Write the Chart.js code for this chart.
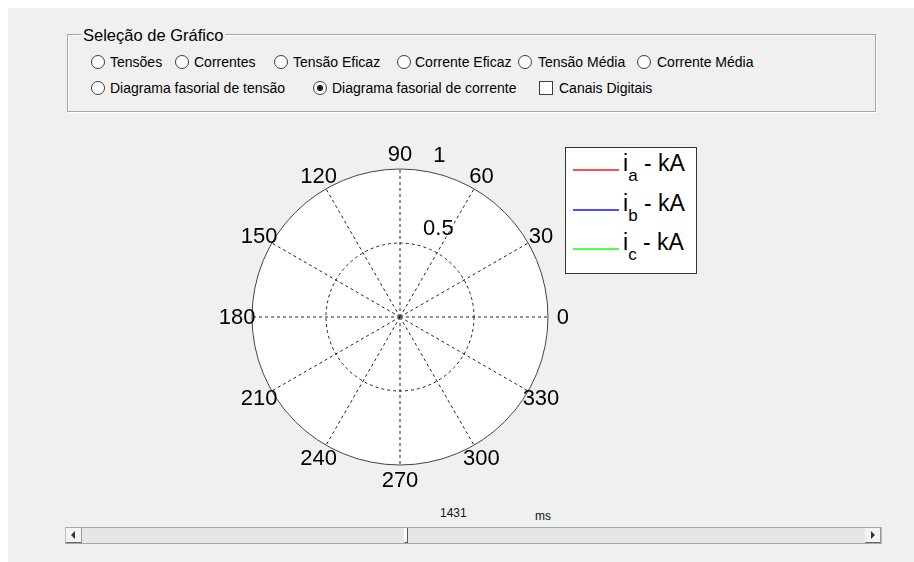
<!DOCTYPE html>
<html>
<head>
<meta charset="utf-8">
<script src="https://cdn.jsdelivr.net/npm/chart.js@4/dist/chart.umd.min.js"></script>
<style>
  body { margin: 0; width: 914px; height: 562px; background: #fff; overflow: hidden; position: relative;
         font-family: "Liberation Sans", Arial, sans-serif; color: #000; }
  .abs { position: absolute; }
  #frame { left: 8px; top: 8px; width: 906px; height: 554px; background: #f0f0f0; }
  #panel { left: 67px; top: 34px; width: 807px; height: 76px; border: 1px solid #a5a5a5;
           box-shadow: inset 1px 1px 0 #fff, 1px 1px 0 #fff; }
  #panelTitle { left: 81px; top: 25px; padding: 0 2px; background: #f0f0f0; font-size: 16.5px; line-height: 20px; }
  .radio { width: 12px; height: 12px; border: 1px solid #3c3c3c; border-radius: 50%; background: #fff; }
  .radio.on::after { content: ""; position: absolute; left: 3px; top: 3px; width: 6px; height: 6px;
                     border-radius: 50%; background: #1a1a1a; }
  .check { width: 12px; height: 12px; border: 1px solid #3c3c3c; background: #fff; }
  .opt { font-size: 14px; line-height: 16px; white-space: nowrap; }
  #chartBox { left: 200px; top: 130px; width: 400px; height: 374px; }
  #legend { left: 565px; top: 147px; width: 130px; height: 125px; background: #fff; border: 1px solid #333; z-index: 2; }
  .legRow { position: absolute; left: 0; height: 40px; width: 130px; }
  .legLine { position: absolute; left: 7px; width: 46px; height: 2px; top: -1px; opacity: 0.7; }
  .legText { position: absolute; left: 57px; font-size: 23px; line-height: 23px; white-space: nowrap; }
  .legText sub { font-size: 17px; vertical-align: -10px; line-height: 0; }
  #scroll { left: 65px; top: 527px; width: 815px; height: 15px; background: #e6e6e6;
            border-top: 1px solid #a8a8a8; border-bottom: 1px solid #a8a8a8; border-left: 1px solid #bbb; border-right: 1px solid #bbb; }
  .sbtn { top: 0; width: 16px; height: 15px; background: #f4f4f4; border-right: 1px solid #999; border-bottom: 1px solid #666; box-sizing: border-box; }
  .arrow { width: 0; height: 0; border-top: 4px solid transparent; border-bottom: 4px solid transparent; top: 3px; }
  #thumb { left: 338px; top: 0; width: 4px; height: 15px; background: #f7f7f7; border-left: 1px solid #fff; border-right: 1px solid #555; border-bottom: 1px solid #555; box-sizing: border-box; }
  .small { font-size: 12px; line-height: 14px; color: #111; }
</style>
</head>
<body>
<div id="frame" class="abs"></div>
<div id="panel" class="abs"></div>
<div id="panelTitle" class="abs">Seleção de Gráfico</div>

<div class="abs radio" style="left:91px;top:55px"></div><div class="abs opt" style="left:110px;top:54px">Tensões</div>
<div class="abs radio" style="left:175px;top:55px"></div><div class="abs opt" style="left:194px;top:54px">Correntes</div>
<div class="abs radio" style="left:274px;top:55px"></div><div class="abs opt" style="left:293px;top:54px">Tensão Eficaz</div>
<div class="abs radio" style="left:397px;top:55px"></div><div class="abs opt" style="left:415px;top:54px">Corrente Eficaz</div>
<div class="abs radio" style="left:518px;top:55px"></div><div class="abs opt" style="left:538px;top:54px">Tensão Média</div>
<div class="abs radio" style="left:637px;top:55px"></div><div class="abs opt" style="left:657px;top:54px">Corrente Média</div>

<div class="abs radio" style="left:91px;top:81px"></div><div class="abs opt" style="left:110px;top:80px">Diagrama fasorial de tensão</div>
<div class="abs radio on" style="left:313px;top:81px"></div><div class="abs opt" style="left:332px;top:80px">Diagrama fasorial de corrente</div>
<div class="abs check" style="left:539px;top:81px"></div><div class="abs opt" style="left:559px;top:80px">Canais Digitais</div>

<div id="chartBox" class="abs"><canvas id="polar-chart"></canvas></div>
<div id="legend" class="abs"></div>

<div class="abs small" style="left:440px;top:506px">1431</div>
<div class="abs small" style="left:535px;top:509px">ms</div>
<div id="scroll" class="abs">
  <div class="abs sbtn" style="left:0"><div class="abs arrow" style="left:5px;border-right:4px solid #333"></div></div>
  <div id="thumb" class="abs"></div>
  <div class="abs sbtn" style="right:0"><div class="abs arrow" style="left:6px;border-left:4px solid #333"></div></div>
</div>

<script>
// polar grid: angle labels clockwise from the top
const angleLabels = ['90', '60', '30', '0', '330', '300', '270', '240', '210', '180', '150', '120'];
const radialTicks = [0, 0.5, 1];

// phasors (kA) - almost zero in this snapshot
const seriesNames = ['i_a - kA', 'i_b - kA', 'i_c - kA'];
const seriesColors = ['#ff0000', '#0000ff', '#00ff00'];
const iaValues = [0, 0, 0, 0.01, 0, 0, 0, 0, 0, 0, 0, 0];
const ibValues = [0, 0, 0, 0, 0, 0, 0, 0.01, 0, 0, 0, 0];
const icValues = [0, 0, 0, 0, 0, 0.012, 0, 0, 0, 0, 0, 0];

const polarText = {
  id: 'polarText',
  afterDraw(chart) {
    const scale = chart.scales.r;
    const ctx = chart.ctx;
    ctx.save();
    ctx.font = '22px "Liberation Sans", Arial, sans-serif';
    ctx.fillStyle = '#000';
    ctx.textAlign = 'center';
    ctx.textBaseline = 'middle';
    chart.data.labels.forEach((label, i) => {
      const p = scale.getPointPosition(i, scale.getDistanceFromCenterForValue(1.1));
      ctx.fillText(label, p.x, p.y + 1);
    });
    // radius labels sit at 82 degrees, like matlab's polar()
    ctx.textAlign = 'left';
    ctx.textBaseline = 'bottom';
    scale.ticks.forEach(tick => {
      if (tick.value <= 0) return;
      const p = scale.getPointPosition(0, scale.getDistanceFromCenterForValue(tick.value + 0.025), 8 * Math.PI / 180);
      ctx.fillText('  ' + tick.label, p.x, p.y);
    });
    ctx.restore();
  }
};

const htmlLegend = {
  id: 'htmlLegend',
  afterUpdate(chart) {
    const box = document.getElementById('legend');
    box.innerHTML = '';
    chart.data.datasets.forEach((ds, i) => {
      const row = document.createElement('div');
      row.className = 'legRow';
      row.style.top = (22 + i * 39.5) + 'px';
      const line = document.createElement('div');
      line.className = 'legLine';
      line.style.background = ds.borderColor;
      const txt = document.createElement('div');
      txt.className = 'legText';
      txt.style.top = '-18px';
      const parts = ds.label.split('_');
      const rest = parts[1];
      txt.innerHTML = parts[0] + '<sub>' + rest.charAt(0) + '</sub>' + rest.slice(1);
      row.appendChild(line);
      row.appendChild(txt);
      box.appendChild(row);
    });
  }
};

const polarChart = new Chart(document.getElementById('polar-chart'), {
  type: 'radar',
  data: {
    labels: angleLabels,
    datasets: [iaValues, ibValues, icValues].map((values, i) => ({
      label: seriesNames[i],
      data: values,
      borderColor: seriesColors[i],
      borderWidth: 1,
      pointRadius: 0,
      fill: false
    }))
  },
  options: {
    animation: false,
    responsive: true,
    maintainAspectRatio: false,
    layout: { padding: { left: 52, right: 52, top: 39, bottom: 39 } },
    plugins: { legend: { display: false }, tooltip: { enabled: false } },
    scales: {
      r: {
        min: 0,
        max: 1,
        afterBuildTicks: scale => { scale.ticks = radialTicks.map(value => ({ value })); },
        backgroundColor: '#fff',
        ticks: { display: false, callback: value => String(value) },
        pointLabels: { display: false },
        angleLines: { color: '#222', lineWidth: 1, borderDash: [3, 3] },
        grid: { circular: true, color: ctx => ctx.index === 2 ? '#444' : '#222', lineWidth: 1 },
        border: { dash: ctx => ctx.index === 2 ? [] : [3, 3] }
      }
    }
  },
  plugins: [polarText, htmlLegend]
});
</script>
</body>
</html>
